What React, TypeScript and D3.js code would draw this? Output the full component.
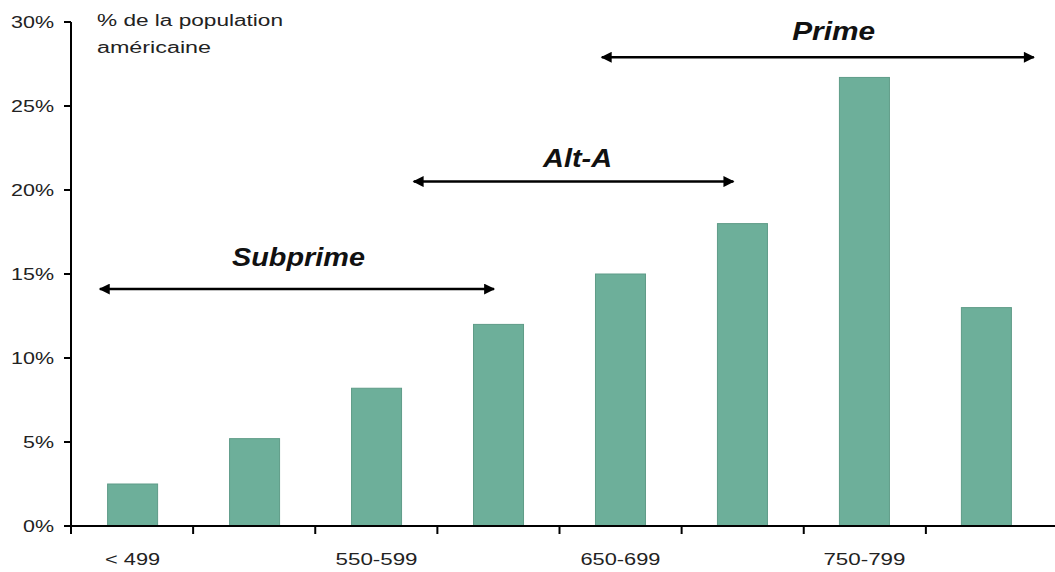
import React from "react";
import * as d3 from "d3";

const categories = ["< 499", "500-549", "550-599", "600-649", "650-699", "700-749", "750-799", "800+"];
const shownLabels = ["< 499", "", "550-599", "", "650-699", "", "750-799", ""];
const values = [2.5, 5.2, 8.2, 12.0, 15.0, 18.0, 26.7, 13.0];
const yTicks = [0, 5, 10, 15, 20, 25, 30];
const bandNames = ["Subprime", "Alt-A", "Prime"];
const bandStart = [0.22, 2.79, 4.33];
const bandEnd = [3.48, 5.44, 7.9];
const bandLevel = [14.1, 20.5, 27.9];
const bandLabelPos = [1.863, 4.148, 6.245];
const bandLabelLevel = [15.45, 21.35, 28.9];

const W = 1055, H = 572;
const left = 71, right = 1048, top = 22, bottom = 526;

export default function App() {
  const x = d3.scaleBand<string>().domain(categories).range([left, right]).paddingInner(0.59).paddingOuter(0.3);
  const y = d3.scaleLinear().domain([0, 30]).range([bottom, top]);
  const step = (right - left) / categories.length;
  const xi = d3.scaleLinear().domain([0, categories.length]).range([left, right]);
  const font = "'Liberation Sans', Arial, sans-serif";
  const labelW: Record<string, number> = { "< 499": 55, "550-599": 82, "650-699": 80, "750-799": 82 };
  const nameW: Record<string, number> = { Subprime: 133, "Alt-A": 69, Prime: 83 };
  return (
    <svg width={W} height={H} style={{ position: "absolute", left: 0, top: 0 }} fontFamily={font}>
      <defs>
        <marker id="ah" viewBox="0 0 10 10" refX="9" refY="5" markerWidth="5" markerHeight="4.4" orient="auto-start-reverse">
          <path d="M0,0 L10,5 L0,10 Z" fill="#000" />
        </marker>
      </defs>
      <rect width={W} height={H} fill="#fff" />
      {values.map((v, i) => (
        <rect key={i} x={x(categories[i])} y={y(v)} width={x.bandwidth()} height={y(0) - y(v)}
          fill="#6daf9a" stroke="#5f9c88" strokeWidth={1} />
      ))}
      {/* y axis */}
      <line x1={left} x2={left} y1={top} y2={bottom} stroke="#000" strokeWidth={2} />
      {yTicks.map(t => (
        <g key={t}>
          <line x1={left - 7} x2={left} y1={y(t)} y2={y(t)} stroke="#000" strokeWidth={2} />
          <text x={54} y={y(t)} dy="0.36em" textAnchor="end" fontSize={17} fill="#222"
            textLength={t >= 10 ? 43 : 31} lengthAdjust="spacingAndGlyphs">{t}%</text>
        </g>
      ))}
      {/* x axis */}
      <line x1={left} x2={W} y1={bottom} y2={bottom} stroke="#000" strokeWidth={2} />
      {d3.range(categories.length).map(i => (
        <line key={i} x1={left + i * step} x2={left + i * step} y1={bottom} y2={bottom + 8} stroke="#000" strokeWidth={2} />
      ))}
      {shownLabels.map((l, i) => l ? (
        <text key={i} x={(x(categories[i]) as number) + x.bandwidth() / 2} y={565} textAnchor="middle" fontSize={17} fill="#222"
          textLength={labelW[l]} lengthAdjust="spacingAndGlyphs">{l}</text>
      ) : null)}
      <text x={97} y={26} fontSize={16} fill="#222" textLength={186} lengthAdjust="spacingAndGlyphs">% de la population</text>
      <text x={97} y={53} fontSize={16} fill="#222" textLength={114} lengthAdjust="spacingAndGlyphs">américaine</text>
      {bandNames.map((n, i) => {
        const x1 = xi(bandStart[i]), x2 = xi(bandEnd[i]), yy = y(bandLevel[i]);
        return (
          <g key={n}>
            <line x1={x1 + 2} x2={x2 - 2} y1={yy} y2={yy} stroke="#000" strokeWidth={2.5}
              markerStart="url(#ah)" markerEnd="url(#ah)" />
            <text x={xi(bandLabelPos[i])} y={y(bandLabelLevel[i])} textAnchor="middle" fontSize={25} fontWeight="bold" fontStyle="italic" fill="#111"
              textLength={nameW[n]} lengthAdjust="spacingAndGlyphs">{n}</text>
          </g>
        );
      })}
    </svg>
  );
}
